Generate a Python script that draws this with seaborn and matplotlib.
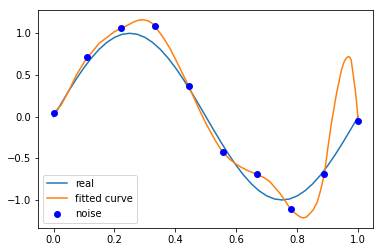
import matplotlib
matplotlib.use("Agg")
import matplotlib.pyplot as plt
import seaborn as sns
import numpy as np

# real curve
real_x = [0.0, 0.025, 0.05, 0.075, 0.1, 0.125, 0.15, 0.175, 0.2, 0.225, 0.25, 0.275, 0.3, 0.325,
          0.35, 0.375, 0.4, 0.425, 0.45, 0.475, 0.5, 0.525, 0.55, 0.575, 0.6, 0.625, 0.65, 0.675,
          0.7, 0.725, 0.75, 0.775, 0.8, 0.825, 0.85, 0.875, 0.9, 0.925, 0.95, 0.975, 1.0]
real_y = [0.0, 0.156, 0.309, 0.454, 0.588, 0.707, 0.809, 0.891, 0.951, 0.988, 1.0, 0.988, 0.951, 0.891,
          0.809, 0.707, 0.588, 0.454, 0.309, 0.156, 0.0, -0.156, -0.309, -0.454, -0.588, -0.707, -0.809, -0.891,
          -0.951, -0.988, -1.0, -0.988, -0.951, -0.891, -0.809, -0.707, -0.588, -0.454, -0.309, -0.156, 0.0]

# fitted curve
fit_x = [0.0, 0.025, 0.05, 0.075, 0.1, 0.111, 0.15, 0.2, 0.222, 0.25, 0.265, 0.28, 0.295, 0.31,
         0.322, 0.333, 0.36, 0.382, 0.4, 0.415, 0.444, 0.464, 0.48, 0.5, 0.515, 0.53, 0.545, 0.556,
         0.575, 0.595, 0.615, 0.633, 0.667, 0.69, 0.71, 0.743, 0.762, 0.778, 0.79, 0.80, 0.81, 0.82,
         0.83, 0.84, 0.852, 0.865, 0.874, 0.889, 0.901, 0.912, 0.929, 0.945, 0.953, 0.96, 0.967,
         0.972, 0.977, 0.983, 0.99, 0.994, 1.0]
fit_y = [0.04, 0.14, 0.31, 0.50, 0.65, 0.71, 0.88, 1.02, 1.06, 1.11, 1.14, 1.158, 1.162, 1.15,
         1.125, 1.085, 0.95, 0.82, 0.69, 0.58, 0.365, 0.20, 0.07, -0.08, -0.18, -0.28, -0.37, -0.427,
         -0.50, -0.56, -0.605, -0.64, -0.692, -0.73, -0.78, -0.92, -1.02, -1.112, -1.15, -1.18, -1.205,
         -1.215, -1.205, -1.17, -1.12, -1.03, -0.92, -0.692, -0.36, -0.08, 0.28, 0.56, 0.65, 0.70,
         0.72, 0.715, 0.68, 0.52, 0.33, 0.20, -0.052]

# noisy samples
noise_x = [0.0, 0.111, 0.222, 0.333, 0.444, 0.556, 0.667, 0.778, 0.889, 1.0]
noise_y = [0.04, 0.713, 1.06, 1.085, 0.365, -0.427, -0.692, -1.112, -0.692, -0.052]

fig = plt.figure(figsize=(383 / 72, 252 / 72), dpi=72)
ax = fig.add_axes([0.1, 0.0964, 0.875, 0.863])

sns.lineplot(x=real_x, y=real_y, ax=ax, color="#1f77b4", linewidth=1.5, label="real", sort=False)
sns.lineplot(x=fit_x, y=fit_y, ax=ax, color="#ff7f0e", linewidth=1.5, label="fitted curve", sort=False)
sns.scatterplot(x=noise_x, y=noise_y, ax=ax, color="blue", s=49, linewidth=0, label="noise", zorder=3)

ax.set_xlim(-0.05, 1.05)
ax.set_ylim(-1.333, 1.277)
ax.set_xticks([0.0, 0.2, 0.4, 0.6, 0.8, 1.0])
ax.set_yticks([-1.0, -0.5, 0.0, 0.5, 1.0])
ax.legend(loc="lower left")

fig.savefig("out.png", dpi=72)
